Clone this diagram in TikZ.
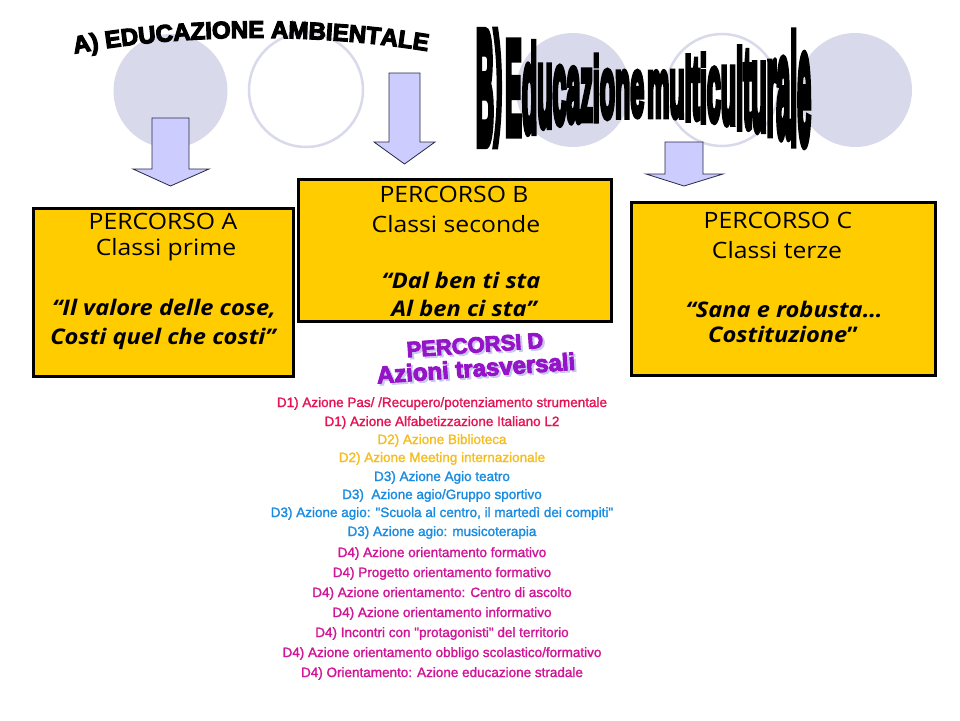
\documentclass[tikz,border=0pt]{standalone}
\usepackage{fontspec}
\usepackage{graphicx}
\usetikzlibrary{decorations.text}
\setmainfont{Liberation Sans}
\newfontfamily\heavyA[BoldFeatures={FakeBold=5}]{Liberation Sans}
\newfontfamily\heavyB[BoldFeatures={FakeBold=8}]{Liberation Sans}
\newfontfamily\heavyC[BoldFeatures={FakeBold=4}]{Liberation Sans}
\newfontfamily\dfont[FakeBold=1.5]{Liberation Sans}
\newfontfamily\comic[FakeStretch=1.1]{Open Sans}
\definecolor{circ}{RGB}{217,217,236}
\definecolor{arrfill}{RGB}{204,204,255}
\definecolor{arrdraw}{RGB}{40,40,70}
\definecolor{boxfill}{RGB}{255,204,0}
\definecolor{dA}{RGB}{230,20,85}
\definecolor{dB}{RGB}{245,190,30}
\definecolor{dC}{RGB}{25,140,225}
\definecolor{dD}{RGB}{210,20,150}
\definecolor{pdpurple}{RGB}{150,20,200}
\definecolor{pdshadow}{RGB}{200,200,240}
\newcommand\tbl[2]{$\vcenter{\hbox{\scalebox{1}[#2]{\vphantom{B}#1}}}$}
\newcommand\tbp[2]{$\vcenter{\hbox{\scalebox{1}[#2]{#1}}}$}
\newcommand\shadowed[1]{\makebox[0pt][l]{\hspace{2pt}\raisebox{-2pt}{\color{pdshadow}#1}}#1}
\tikzset{
  x=1pt, y=1pt,
  fillcirc/.style={fill=circ, draw=none},
  ringcirc/.style={draw=circ, line width=2.5pt, fill=none},
  blockarrow/.style={fill=arrfill, draw=arrdraw, line width=0.8pt, line join=miter},
  percbox/.style={fill=boxfill, draw=black, line width=3pt},
  regline/.style={anchor=base, inner sep=0pt, font=\comic\fontsize{22.5}{22.5}\selectfont},
  quoteline/.style={anchor=base, inner sep=0pt, font=\comic\bfseries\itshape\fontsize{21.5}{21.5}\selectfont},
  dline/.style={anchor=base, inner sep=0pt, font=\dfont\fontsize{13.5}{13.5}\selectfont},
  pdtext/.style={inner sep=0pt, rotate=4, text=pdpurple, font=\heavyC\bfseries\fontsize{#1}{#1}\selectfont},
}
\begin{document}
\begin{tikzpicture}
\useasboundingbox (0,0) rectangle (960,-720);
\fill[white] (0,0) rectangle (960,-720);

% background circles
\fill[fillcirc] (170.5,-91) circle (57);
\draw[ringcirc] (306,-90) circle (57);
\fill[fillcirc] (573,-90) circle (57);
\draw[ringcirc] (722,-90) circle (56);
\fill[fillcirc] (855,-90) circle (57);

% block arrows
\draw[blockarrow] (152,-118) -- (189,-118) -- (189,-169) -- (209,-169) -- (170.5,-186) -- (133,-169) -- (152,-169) -- cycle;
\draw[blockarrow] (389,-73) -- (420,-73) -- (420,-142) -- (435,-142) -- (404.5,-164) -- (374,-142) -- (389,-142) -- cycle;
\draw[blockarrow] (665,-142) -- (703,-142) -- (703,-174) -- (723,-174) -- (684,-186) -- (646,-174) -- (665,-174) -- cycle;

% title A (arched)
\path[decorate, decoration={text along path, text align=center,
  text={|\heavyA\bfseries\fontsize{24}{24}\selectfont|A) EDUCAZIONE AMBIENTALE}}]
  (58,-57) .. controls (175,-32) and (325,-32) .. (444,-54);

% title B (wave-shaped)
\node[inner sep=0pt, font=\heavyB\bfseries\fontsize{25}{25}\selectfont] (titleB) at (643.5,-88)
 {\tbl{B}{6.36}\tbp{)}{4.85}\hspace{0.12em}\tbl{E}{5.27}\tbl{d}{4.83}\tbl{u}{4.45}\tbl{c}{4.13}\tbl{a}{3.88}\tbl{z}{3.68}\tbl{i}{3.55}\tbl{o}{3.44}\tbl{n}{3.32}\tbl{e}{3.26}\hspace{0.12em}\tbl{m}{3.26}\tbl{u}{3.36}\tbl{l}{3.47}\tbl{t}{3.55}\tbl{i}{3.66}\tbl{c}{3.83}\tbl{u}{4.11}\tbl{l}{4.36}\tbl{t}{4.54}\tbl{u}{4.87}\tbl{r}{5.25}\tbl{a}{5.64}\tbl{l}{6.02}\tbl{e}{6.42}};

% boxes
\draw[percbox] (33,-208) rectangle (293,-376);
\draw[percbox] (298,-179) rectangle (611,-321);
\draw[percbox] (631,-202) rectangle (935,-375);

\node[regline] (a1) at (163,-229) {PERCORSO A};
\node[regline] (a2) at (166,-255) {Classi prime};
\node[quoteline] (a3) at (164,-315) {“Il valore delle cose,};
\node[quoteline] (a4) at (163,-344) {Costi quel che costi”};

\node[regline] (b1) at (454,-202) {PERCORSO B};
\node[regline] (b2) at (456,-232) {Classi seconde};
\node[quoteline] (b3) at (461,-288) {“Dal ben ti sta};
\node[quoteline] (b4) at (464,-316) {Al ben ci sta”};

\node[regline] (c1) at (778,-228) {PERCORSO C};
\node[regline] (c2) at (777,-258) {Classi terze};
\node[quoteline] (c3) at (784,-317) {“Sana e robusta…};
\node[quoteline] (c4) at (783,-342) {Costituzione\textup{”}};

% PERCORSI D
\node[pdtext=22] (pd1) at (475,-346) {\shadowed{PERCORSI D}};
\node[pdtext=24] (pd2) at (476,-369) {\shadowed{Azioni trasversali}};

% D list
\node[dline, text=dA] (l1) at (442,-407) {D1) Azione Pas/ /Recupero/potenziamento strumentale};
\node[dline, text=dA] (l2) at (442,-426) {D1) Azione Alfabetizzazione Italiano L2};
\node[dline, text=dB] (l3) at (442,-444) {D2) Azione Biblioteca};
\node[dline, text=dB] (l4) at (442,-462) {D2) Azione Meeting internazionale};
\node[dline, text=dC] (l5) at (442,-481) {D3) Azione Agio teatro};
\node[dline, text=dC] (l6) at (442,-499) {D3)\ \ Azione agio/Gruppo sportivo};
\node[dline, text=dC] (l7) at (442,-517) {D3) Azione agio: "Scuola al centro, il martedì dei compiti"};
\node[dline, text=dC] (l8) at (442,-536) {D3) Azione agio: musicoterapia};
\node[dline, text=dD] (l9) at (442,-557) {D4) Azione orientamento formativo};
\node[dline, text=dD] (l10) at (442,-577) {D4) Progetto orientamento formativo};
\node[dline, text=dD] (l11) at (442,-597) {D4) Azione orientamento: Centro di ascolto};
\node[dline, text=dD] (l12) at (442,-617) {D4) Azione orientamento informativo};
\node[dline, text=dD] (l13) at (442,-637) {D4) Incontri con "protagonisti" del territorio};
\node[dline, text=dD] (l14) at (442,-657) {D4) Azione orientamento obbligo scolastico/formativo};
\node[dline, text=dD] (l15) at (442,-677) {D4) Orientamento: Azione educazione stradale};
\end{tikzpicture}
\end{document}
